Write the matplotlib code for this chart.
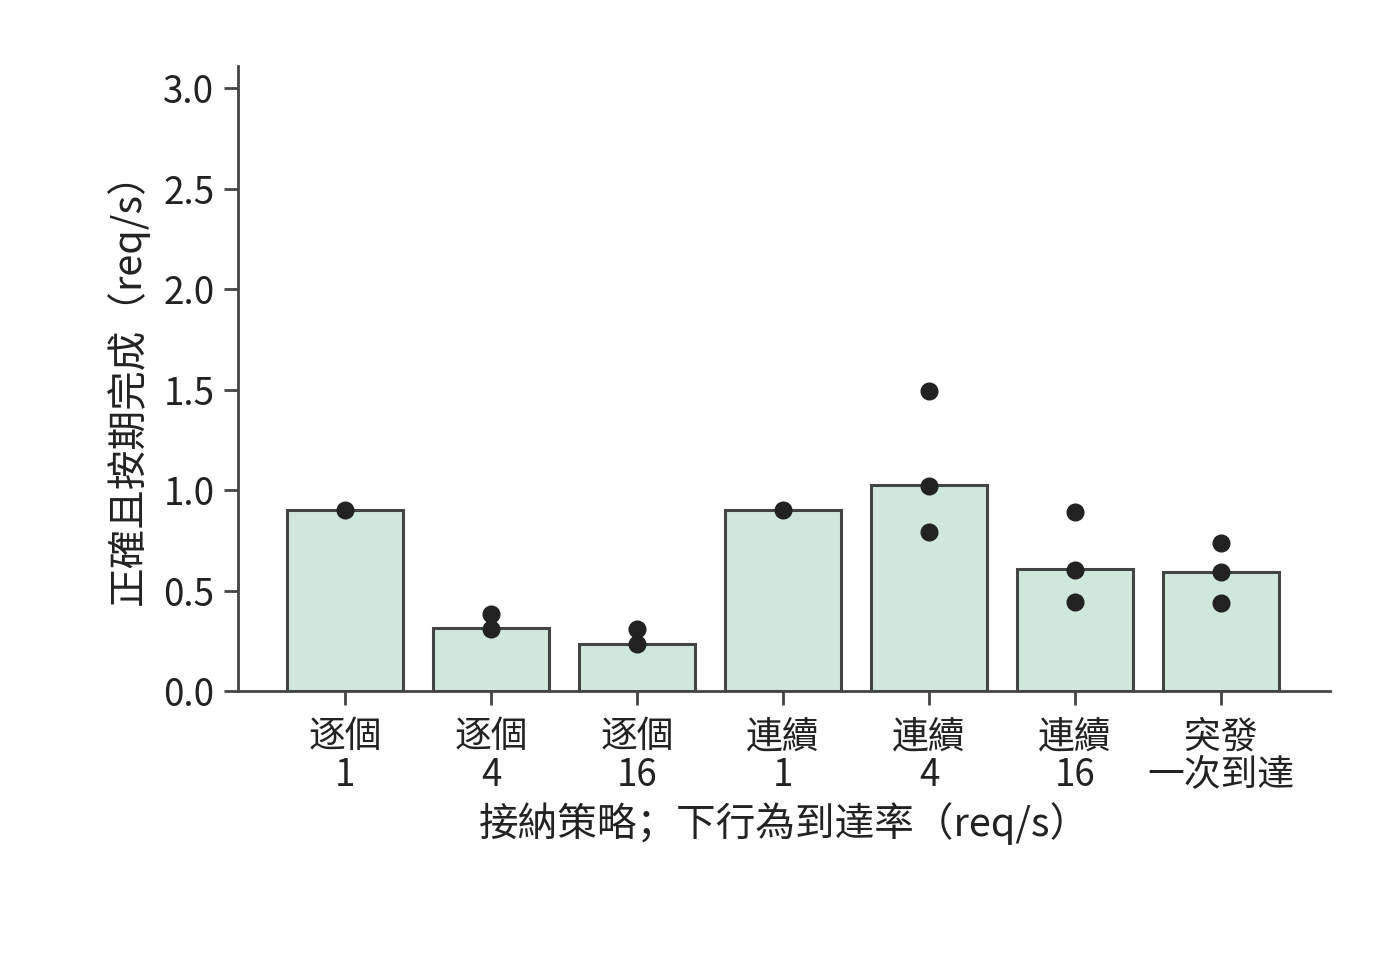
import matplotlib
matplotlib.use("Agg")
import matplotlib.pyplot as plt

plt.rcParams['font.family'] = ['Noto Sans CJK SC', 'DejaVu Sans']

categories = ["逐個\n1", "逐個\n4", "逐個\n16", "連續\n1", "連續\n4", "連續\n16", "突發\n一次到達"]
bar_values = [0.90, 0.313, 0.234, 0.90, 1.023, 0.605, 0.594]
dot_values = [
    [0.90],
    [0.383, 0.308],
    [0.308, 0.234],
    [0.90],
    [1.494, 1.02, 0.79],
    [0.892, 0.603, 0.444],
    [0.738, 0.593, 0.439],
]
y_ticks = [0.0, 0.5, 1.0, 1.5, 2.0, 2.5, 3.0]
x_label = "接納策略；下行為到達率（req/s）"
y_label = "正確且按期完成（req/s）"

fig = plt.figure(figsize=(14, 9.6), dpi=100)
ax = fig.add_axes([0.17, 0.2802, 0.78, 0.651])

edge = "#444444"
x = list(range(len(categories)))
ax.bar(x, bar_values, width=0.8, color="#d0e8dc", edgecolor=edge, linewidth=2.2, zorder=2)
for i, vals in enumerate(dot_values):
    ax.plot([i] * len(vals), vals, "o", color="#222222", markersize=12, zorder=3, linestyle="none")

ax.set_xlim(-0.733, 6.747)
ax.set_ylim(0, 3.11)
ax.set_yticks(y_ticks)
ax.set_yticklabels([f"{v:.1f}" for v in y_ticks])
ax.set_xticks(x)
ax.set_xticklabels(categories, linespacing=0.98)

for s in ["top", "right"]:
    ax.spines[s].set_visible(False)
for s in ["left", "bottom"]:
    ax.spines[s].set_color(edge)
    ax.spines[s].set_linewidth(2)

ax.tick_params(axis="both", colors="#222222", labelsize=26.5, length=10, width=2)
ax.tick_params(axis="both", color=edge)
ax.tick_params(axis="x", pad=9)
ax.tick_params(axis="y", pad=7)

ax.set_xlabel(x_label, fontsize=28.5, color="#222222", labelpad=5)
ax.set_ylabel(y_label, fontsize=28.5, color="#222222", labelpad=10)

fig.savefig("out.png", dpi=100)
